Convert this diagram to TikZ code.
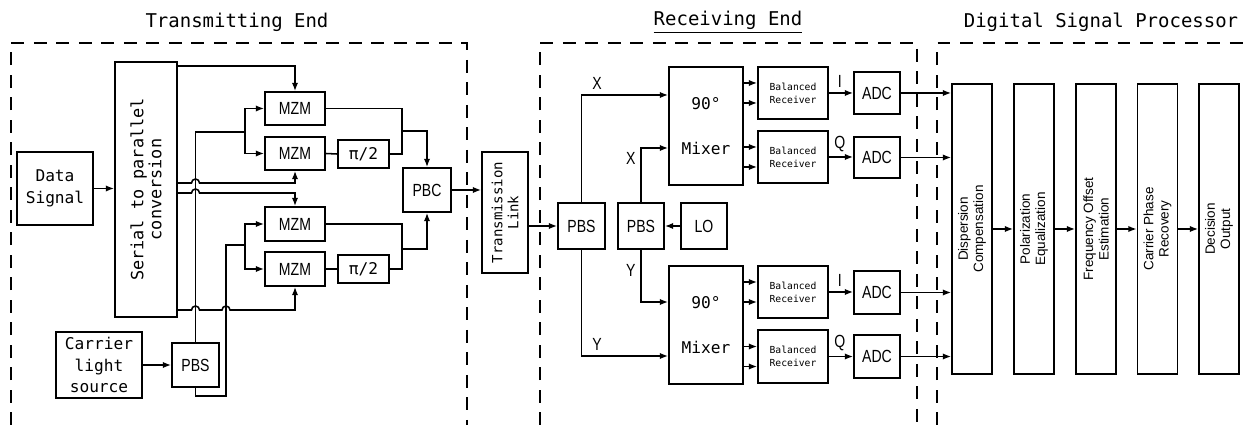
\documentclass[tikz,border=0pt]{standalone}
\usepackage{fontspec}
\setmainfont{Liberation Sans}
\newfontfamily\monofont{DejaVu Sans Mono}
\newfontfamily\narrowfont[FakeStretch=0.8]{Liberation Sans}
\usetikzlibrary{arrows.meta,calc}
\newdimen\pxu \pxu=0.025cm

\begin{document}
\begin{tikzpicture}[x=0.025cm, y=-0.025cm, line width=1.1pt,
    blk/.style={draw, rectangle, inner sep=0pt, align=center},
    sz/.style 2 args={minimum width=#1\pxu, minimum height=#2\pxu},
    mono/.style={font=\fontsize{11.5}{15.5}\monofont},
    narrow/.style={font=\fontsize{12.5}{14}\narrowfont},
    ttl/.style={font=\fontsize{13.5}{16}\monofont},
    tiny/.style={font=\fontsize{6.9}{9.2}\monofont},
    dsp/.style={blk, sz={40}{290}},
    dtxt/.style={rotate=90, align=center, font=\fontsize{9.6}{11}\selectfont},
    arr/.style={-{Latex[length=6pt,width=4.5pt]}},
    frame/.style={line width=0.9pt, dash pattern=on 9pt off 7pt}]
    \useasboundingbox (0,0) rectangle (1246,425);

    % Section titles
    \node[ttl] (ttx) at (237,22) {Transmitting End};
    \node[ttl] (trx) at (728,22) {\underline{Receiving End}};
    \node[ttl] (tdsp) at (1101,22) {Digital Signal Processor};

    % Dashed frames
    \draw[frame] (11,425) -- (11,43) -- (467,43) -- (467,425);
    \draw[frame] (540,425) -- (540,43) -- (917,43) -- (917,425);
    \draw[frame] (937,425) -- (937,43) -- (1246,43);

    % Transmitting end
    \node[blk, mono, sz={76}{73}] (data) at (55,188.5) {Data\\Signal};
    \node[blk, sz={62}{255}, label={[font=\fontsize{12}{12.8}\monofont, rotate=90, align=center]center:Serial to parallel\\conversion}] (sp) at (146,189.5) {};
    \node[blk, mono, sz={86}{66}] (carrier) at (99,365) {Carrier\\light\\source};
    \node[blk, narrow, sz={47}{44}] (pbst) at (195.5,365) {PBS};
    \node[blk, narrow, sz={60}{33}] (mzm1) at (295,108.5) {MZM};
    \node[blk, narrow, sz={60}{33}] (mzm2) at (295,153.5) {MZM};
    \node[blk, narrow, sz={60}{34}] (mzm3) at (295,224) {MZM};
    \node[blk, narrow, sz={60}{34}] (mzm4) at (295,269) {MZM};
    \node[blk, mono, sz={51}{28}] (ph1) at (363.5,154) {π/2};
    \node[blk, mono, sz={51}{28}] (ph2) at (363.5,269) {π/2};
    \node[blk, narrow, sz={48}{44}] (pbc) at (427,190) {PBC};
    \node[blk, sz={46}{121}, label={[font=\fontsize{10}{11.4}\monofont, rotate=90, align=center]center:Transmission\\Link}] (link) at (505,212.5) {};

    \draw[arr] (data.east) -- (data.east -| sp.west);
    \draw[arr] (carrier.east) -- (pbst.west);

    % carrier split to the modulators
    \coordinate (s1) at (245,132);
    \coordinate (v2) at (226,245);
    \coordinate (s2) at (245,245);
    \draw (pbst.north) |- (s1);
    \draw[arr] (s1) |- (mzm1.west);
    \draw[arr] (s1) |- (mzm2.west);
    \draw (pbst.south) -- ++(0,8) -| (v2) -- (s2);
    \draw[arr] (s2) |- (mzm3.west);
    \draw[arr] (s2) |- (mzm4.west);

    % parallel data to the modulators
    \draw[arr] (sp.east |- 0,66) -| (mzm1.north);
    \draw[arr] (sp.east |- 0,183) -- ($(pbst.north |- 0,183)+(-4,0)$) arc (180:360:4) -| (mzm2.south);
    \draw[arr] (sp.east |- 0,193) -- ($(pbst.north |- 0,193)+(-4,0)$) arc (180:360:4) -| (mzm3.north);
    \draw[arr] (sp.east |- 0,310) -- ($(pbst.north |- 0,310)+(-4,0)$) arc (180:360:4)
        -- ($(v2 |- 0,310)+(-4,0)$) arc (180:360:4) -| (mzm4.south);

    % modulators to PBC
    \coordinate (j1) at (402,131);
    \coordinate (j2) at (402,249);
    \draw (mzm1.east) -| (j1);
    \draw (mzm2.east) -- (ph1.west);
    \draw (ph1.east) -| (j1);
    \draw[arr] (j1) -| (pbc.north);
    \draw (mzm3.east) -| (j2);
    \draw (mzm4.east) -- (ph2.west);
    \draw (ph2.east) -| (j2);
    \draw[arr] (j2) -| (pbc.south);
    \draw[arr] (pbc.east) -- (pbc.east -| link.west);

    % Receiving end
    \node[blk, narrow, sz={47}{46}] (pbsr) at (581.5,226) {PBS};
    \node[blk, narrow, sz={46}{46}] (pbsl) at (641,226) {PBS};
    \node[blk, narrow, sz={46}{46}] (lo) at (704,226) {LO};
    \node[blk, mono, sz={74}{118}] (mix1) at (706,126) {90°\\[17pt]Mixer};
    \node[blk, mono, sz={74}{118}] (mix2) at (706,325) {90°\\[17pt]Mixer};
    \node[blk, tiny, sz={70}{52}] (br1) at (793,93) {Balanced\\Receiver};
    \node[blk, tiny, sz={70}{52}] (br2) at (793,157) {Balanced\\Receiver};
    \node[blk, tiny, sz={70}{52}] (br3) at (793,292) {Balanced\\Receiver};
    \node[blk, tiny, sz={70}{53}] (br4) at (793,356.5) {Balanced\\Receiver};
    \node[blk, narrow, sz={46}{42}] (adc1) at (877,93) {ADC};
    \node[blk, narrow, sz={46}{41}] (adc2) at (877,157.5) {ADC};
    \node[blk, narrow, sz={46}{43}] (adc3) at (877,292.5) {ADC};
    \node[blk, narrow, sz={46}{43}] (adc4) at (877,356.5) {ADC};

    \draw[arr] (link.east |- pbsr.west) -- (pbsr.west);
    \draw[arr] (lo.west) -- (pbsl.east);
    \draw[arr] (pbsr.north) |- (mix1.west |- 0,95) node[narrow, pos=0.59, above] {X};
    \draw[arr] (pbsl.north) |- (mix1.west |- 0,148) node[narrow, pos=0.4, left] {X};
    \draw[arr] (pbsl.south) |- (mix2.west |- 0,302) node[narrow, pos=0.2, left] {Y};
    \draw[arr] (pbsr.south) |- (mix2.west |- 0,356) node[narrow, pos=0.59, above] {Y};

    \foreach \b/\m in {br1/mix1,br2/mix1,br3/mix2,br4/mix2} {
        \coordinate (u) at ($(\b.west)+(0,-10)$);
        \coordinate (w) at ($(\b.west)+(0,10)$);
        \draw[arr] (\m.east |- u) -- (u);
        \draw[arr] (\m.east |- w) -- (w);
    }

    \draw[arr] (br1.east) -- (br1.east -| adc1.west) node[narrow, pos=0.45, above] {I};
    \draw[arr] (br2.east) -- (br2.east -| adc2.west) node[narrow, pos=0.45, above] {Q};
    \draw[arr] (br3.east) -- (br3.east -| adc3.west) node[narrow, pos=0.45, above] {I};
    \draw[arr] (br4.east) -- (br4.east -| adc4.west) node[narrow, pos=0.45, above] {Q};

    % Digital signal processor
    \node[dsp, label={[dtxt]center:Dispersion\\Compensation}] (dsp1) at (972,229) {};
    \node[dsp, label={[dtxt]center:Polarization\\Equalization}] (dsp2) at (1034,229) {};
    \node[dsp, label={[dtxt]center:Frequency Offset\\Estimation}] (dsp3) at (1096,229) {};
    \node[dsp, label={[dtxt]center:Carrier Phase\\Recovery}] (dsp4) at (1157.5,229) {};
    \node[dsp, label={[dtxt]center:Decision\\Output}] (dsp5) at (1219,229) {};

    \draw[arr] (adc1.east) -- (adc1.east -| dsp1.west);
    \draw[arr] (adc2.east) -- (adc2.east -| dsp1.west);
    \draw[arr] (adc3.east) -- (adc3.east -| dsp1.west);
    \draw[arr] (adc4.east) -- (adc4.east -| dsp1.west);
    \draw[arr] (dsp1) -- (dsp2);
    \draw[arr] (dsp2) -- (dsp3);
    \draw[arr] (dsp3) -- (dsp4);
    \draw[arr] (dsp4) -- (dsp5);
\end{tikzpicture}
\end{document}
